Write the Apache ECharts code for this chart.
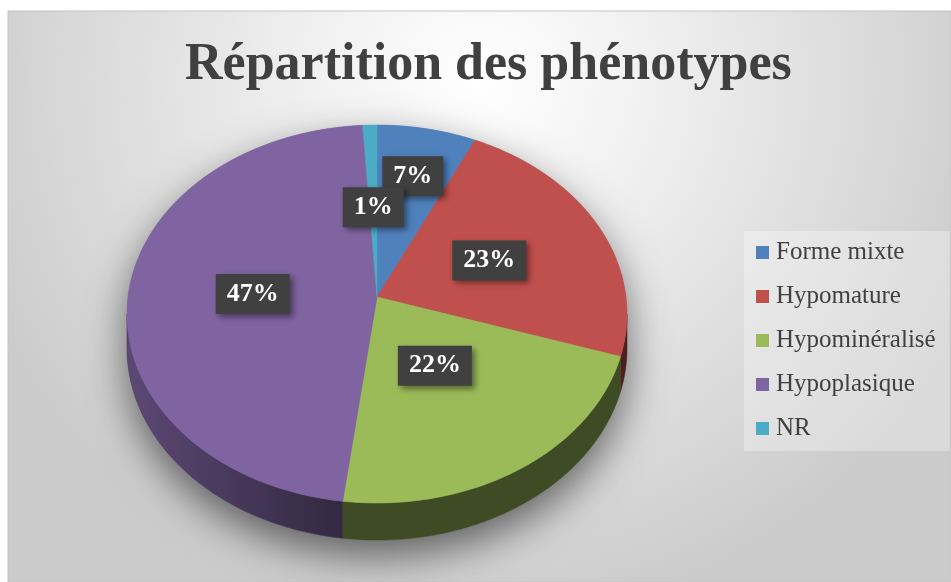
<!DOCTYPE html>
<html style="width:100%;height:100%">
<head>
    <meta charset="UTF-8">
    <title>Répartition des phénotypes</title>
    <script type="text/javascript" src="https://cdn.jsdelivr.net/npm/echarts@6/dist/echarts.min.js"></script>
</head>
<body style="margin:0;width:100%;height:100%;overflow:hidden;background:#fff">
    <div id="chart" style="width:951px;height:582px"></div>

    <script type="text/javascript">
        var myChart = echarts.init(document.getElementById('chart'));

        var categories = ['Forme mixte', 'Hypomature', 'Hypominéralisé', 'Hypoplasique', 'NR'];
        var values = [7, 23, 22, 47, 1];
        var colors = ['#4f81bd', '#c0504d', '#9bbb59', '#8064a2', '#4bacc6'];
        var labelRadius = [0.7, 0.5, 0.42, 0.5, 0.5];

        // geometry of the tilted pie (perspective ellipse)
        var CX = 377, CY = 297, RX = 249, RY = 187.5, PERSP = 0.09, DEPTH = 33.7;
        var total = values.reduce(function (s, v) { return s + v; }, 0);
        var SIDE0 = Math.acos(-PERSP), SIDE1 = Math.PI * 2 - SIDE0;

        function pt(th, f, d) {
            var s = Math.sin(th), c = Math.cos(th);
            var w = 1 + PERSP * f * c;
            return [CX + RX * f * s / w, CY - RY * f * c / w + (d || 0) / w];
        }

        function arc(a0, a1, d) {
            var n = Math.max(2, Math.ceil((a1 - a0) / (Math.PI / 180)));
            var out = [];
            for (var k = 0; k <= n; k++) {
                out.push(pt(a0 + (a1 - a0) * k / n, 1, d));
            }
            return out;
        }

        function shade(hex, f) {
            var r = parseInt(hex.substr(1, 2), 16), g = parseInt(hex.substr(3, 2), 16), b = parseInt(hex.substr(5, 2), 16);
            return 'rgb(' + Math.round(r * f) + ',' + Math.round(g * f) + ',' + Math.round(b * f) + ')';
        }

        function light(th) {
            var t = (th * 180 / Math.PI - 190) / 75;
            t = Math.max(0, Math.min(1, t));
            return 0.4 + 0.32 * t;
        }

        function renderSlice(params, api) {
            var i = params.seriesIndex;
            var before = 0;
            for (var j = 0; j < i; j++) before += values[j];
            var a0 = before / total * Math.PI * 2;
            var a1 = (before + values[i]) / total * Math.PI * 2;
            var children = [];

            if (i === 0) {
                // soft shadow under the whole pie
                var outline = arc(SIDE0, SIDE1, DEPTH).concat(arc(SIDE1, SIDE0 + Math.PI * 2, 0));
                children.push({
                    type: 'polygon', z2: -10,
                    shape: { points: outline },
                    style: { fill: '#8a8a8a', shadowBlur: 40, shadowOffsetY: 16, shadowColor: 'rgba(0,0,0,0.55)' }
                });
            }

            var s0 = Math.max(a0, SIDE0), s1 = Math.min(a1, SIDE1);
            if (s1 > s0) {
                var side = arc(s0, s1, 0).concat(arc(s0, s1, DEPTH).reverse());
                children.push({
                    type: 'polygon', z2: 0,
                    shape: { points: side },
                    style: {
                        fill: {
                            type: 'linear', x: 0, y: 0, x2: 1, y2: 0,
                            colorStops: [
                                { offset: 0, color: shade(colors[i], light(s1)) },
                                { offset: 1, color: shade(colors[i], light(s0)) }
                            ]
                        },
                        stroke: shade(colors[i], light((s0 + s1) / 2)), lineWidth: 0.5
                    }
                });
            }

            var top = [[CX, CY]].concat(arc(a0, a1, 0));
            children.push({
                type: 'polygon', z2: 10,
                shape: { points: top },
                style: { fill: colors[i], stroke: colors[i], lineWidth: 0.5 }
            });

            var mid = (a0 + a1) / 2;
            var lp = pt(mid, labelRadius[i], 0);
            children.push({
                type: 'text', z2: 30, x: lp[0], y: lp[1],
                style: {
                    text: values[i] + '%',
                    fill: '#ffffff',
                    font: 'bold 26px "Liberation Serif"',
                    align: 'center', verticalAlign: 'middle',
                    backgroundColor: '#404040',
                    padding: [7, 11, 7, 11],
                    shadowBlur: 6, shadowOffsetX: 3, shadowOffsetY: 3,
                    shadowColor: 'rgba(0,0,0,0.45)'
                }
            });

            return { type: 'group', children: children };
        }

        var series = categories.map(function (name, i) {
            return {
                type: 'custom',
                name: name,
                coordinateSystem: 'none',
                itemStyle: { color: colors[i] },
                data: [values[i]],
                renderItem: renderSlice,
                silent: true
            };
        });

        option = {
            animation: false,
            graphic: [{
                type: 'rect', z: -100,
                shape: { x: 8, y: 11, width: 943, height: 571 },
                style: {
                    fill: {
                        type: 'radial', x: 0.5, y: 0.12, r: 0.95,
                        colorStops: [
                            { offset: 0, color: '#ffffff' },
                            { offset: 0.3, color: '#f1f1f1' },
                            { offset: 1, color: '#cbcbcb' }
                        ]
                    },
                    stroke: '#c4c4c4', lineWidth: 1
                }
            }],
            title: {
                text: 'Répartition des phénotypes',
                left: 180,
                top: 35,
                textStyle: {
                    fontFamily: 'Liberation Serif',
                    fontWeight: 'bold',
                    fontSize: 52,
                    color: '#404040'
                }
            },
            legend: {
                orient: 'vertical',
                left: 744,
                top: 231,
                padding: [9, 14, 10, 12],
                itemWidth: 13,
                itemHeight: 13,
                itemGap: 19,
                icon: 'rect',
                backgroundColor: 'rgba(255,255,255,0.3)',
                data: categories,
                textStyle: {
                    fontFamily: 'Liberation Serif',
                    fontSize: 25,
                    color: '#404040',
                    padding: [0, 0, 0, 2]
                }
            },
            series: series
        };

        myChart.setOption(option);
    </script>
</body>
</html>
